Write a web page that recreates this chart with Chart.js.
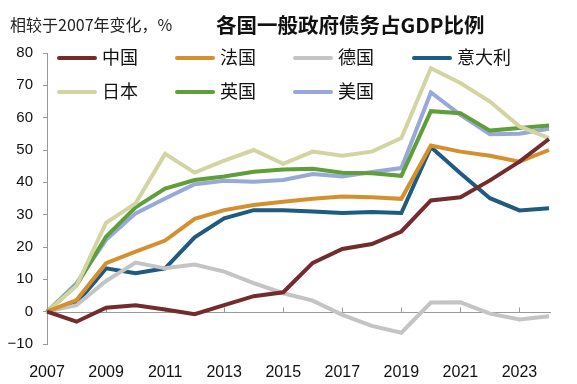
<!DOCTYPE html>
<html>
<head>
<meta charset="utf-8">
<script src="https://cdn.jsdelivr.net/npm/chart.js@4.4.1/dist/chart.umd.min.js"></script>
<style>
  html, body { margin: 0; padding: 0; background: #fff; }
  #wrap { position: relative; width: 577px; height: 384px; }
  #subtitle { position: absolute; left: 10px; top: 12px; font: 16px "Noto Sans CJK SC", sans-serif; color: #222; }
  #title { position: absolute; left: 216px; top: 9px; font: bold 20.5px "Noto Sans CJK SC", sans-serif; color: #111; }
  .leg { position: absolute; font: 18px "Noto Sans CJK SC", sans-serif; color: #111; line-height: 20px; }
  .leg span.ln { position: absolute; left: 0; top: 8px; width: 40px; height: 4px; border-radius: 2px; }
  .leg span.tx { position: absolute; left: 45px; top: -2px; white-space: nowrap; }
</style>
</head>
<body>
<div id="wrap">
  <canvas id="chartCanvas" width="577" height="384"></canvas>
  <div id="subtitle">相较于2007年变化，%</div>
  <div id="title">各国一般政府债务占GDP比例</div>
  <div id="legend"></div>
</div>
<script>
// years 2007-2024, change vs 2007 (pp of GDP)
const years = ['2007','2008','2009','2010','2011','2012','2013','2014','2015','2016','2017','2018','2019','2020','2021','2022','2023','2024'];
const yTicks = [-10, 0, 10, 20, 30, 40, 50, 60, 70, 80];

const china   = [0, -3.1, 1.2, 2.0, 0.7, -0.8, 2.0, 4.8, 6.0, 15.1, 19.4, 20.9, 24.8, 34.4, 35.4, 40.6, 46.4, 53.4];
const france  = [0, 3.6, 15.0, 18.6, 22.0, 28.7, 31.4, 33.0, 34.0, 34.9, 35.6, 35.4, 34.9, 51.4, 49.5, 48.2, 46.4, 50.0];
const germany = [0, 2.0, 9.5, 15.2, 13.4, 14.6, 12.4, 8.8, 5.7, 3.4, -1.0, -4.4, -6.5, 2.8, 2.9, -0.6, -2.4, -1.4];
const italy   = [0, 2.6, 13.4, 11.9, 13.4, 23.0, 28.9, 31.4, 31.4, 31.0, 30.5, 30.8, 30.5, 50.9, 42.8, 35.1, 31.3, 32.0];
const japan   = [0, 8.0, 27.5, 33.5, 48.8, 43.0, 46.7, 50.0, 45.7, 49.5, 48.2, 49.5, 53.7, 75.3, 70.7, 65.0, 57.3, 53.7];
const uk      = [0, 8.2, 23.2, 32.3, 38.1, 40.7, 41.8, 43.3, 44.0, 44.2, 43.0, 42.8, 42.0, 62.0, 61.4, 56.0, 56.8, 57.6];
const us      = [0, 8.8, 22.2, 30.4, 35.0, 39.4, 40.5, 40.2, 40.7, 42.6, 41.8, 43.2, 44.4, 67.8, 60.9, 54.9, 55.0, 56.6];

const series = [
  { name: '中国',   data: china,   color: '#742B2E' },
  { name: '法国',   data: france,  color: '#D4902F' },
  { name: '德国',   data: germany, color: '#C4C4C4' },
  { name: '意大利', data: italy,   color: '#1F5A80' },
  { name: '日本',   data: japan,   color: '#D2D5A2' },
  { name: '英国',   data: uk,      color: '#5F9E38' },
  { name: '美国',   data: us,      color: '#98A8D8' }
];

// legend positions (html overlay)
const legPos = [[57, 48], [175, 48], [293, 48], [412, 48], [57, 82], [175, 82], [293, 82]];
const legend = document.getElementById('legend');
series.forEach((s, i) => {
  const d = document.createElement('div');
  d.className = 'leg';
  d.style.left = legPos[i][0] + 'px';
  d.style.top = legPos[i][1] + 'px';
  d.innerHTML = '<span class="ln" style="background:' + s.color + '"></span><span class="tx">' + s.name + '</span>';
  legend.appendChild(d);
});

// zero line with small upward ticks every 2 years
const zeroLine = {
  id: 'zeroLine',
  beforeDatasetsDraw(chart) {
    const { ctx, scales: { x, y }, chartArea } = chart;
    const y0 = Math.round(y.getPixelForValue(0)) + 0.5;
    ctx.save();
    ctx.strokeStyle = '#999';
    ctx.lineWidth = 1;
    ctx.beginPath();
    ctx.moveTo(chartArea.left, y0);
    ctx.lineTo(chartArea.right + 2, y0);
    for (let i = 2; i < years.length; i += 2) {
      const px = Math.round(x.getPixelForValue(i)) + 0.5;
      ctx.moveTo(px, y0);
      ctx.lineTo(px, y0 - 5);
    }
    ctx.stroke();
    ctx.restore();
  }
};

new Chart(document.getElementById('chartCanvas'), {
  type: 'line',
  data: {
    labels: years,
    datasets: series.map(s => ({
      label: s.name,
      data: s.data,
      borderColor: s.color,
      backgroundColor: s.color,
      borderWidth: 4,
      pointRadius: 0,
      tension: 0,
      borderJoinStyle: 'miter'
    }))
  },
  options: {
    responsive: false,
    animation: false,
    layout: { padding: { top: 53, right: 28, left: 0, bottom: 0 } },
    plugins: { legend: { display: false }, tooltip: { enabled: false } },
    scales: {
      x: {
        offset: false,
        grid: { display: false },
        border: { display: false },
        afterFit: (s) => { s.height = 40; },
        ticks: {
          autoSkip: false,
          maxRotation: 0,
          padding: 11,
          color: '#111',
          font: { family: 'Liberation Sans', size: 16 },
          callback: function (v, i) { return i % 2 === 0 && i < years.length - 1 ? years[i] : ''; }
        }
      },
      y: {
        min: -10,
        max: 80,
        afterFit: (s) => { s.width = 47; },
        afterBuildTicks: (s) => { s.ticks = yTicks.map(v => ({ value: v })); },
        grid: { drawOnChartArea: false, drawTicks: true, tickLength: 4, color: '#999' },
        border: { display: true, color: '#999' },
        ticks: {
          padding: 10,
          color: '#111',
          font: { family: 'Liberation Sans', size: 15 },
          callback: (v) => String(v).replace('-', '\u2212')
        }
      }
    }
  },
  plugins: [zeroLine]
});
</script>
</body>
</html>
